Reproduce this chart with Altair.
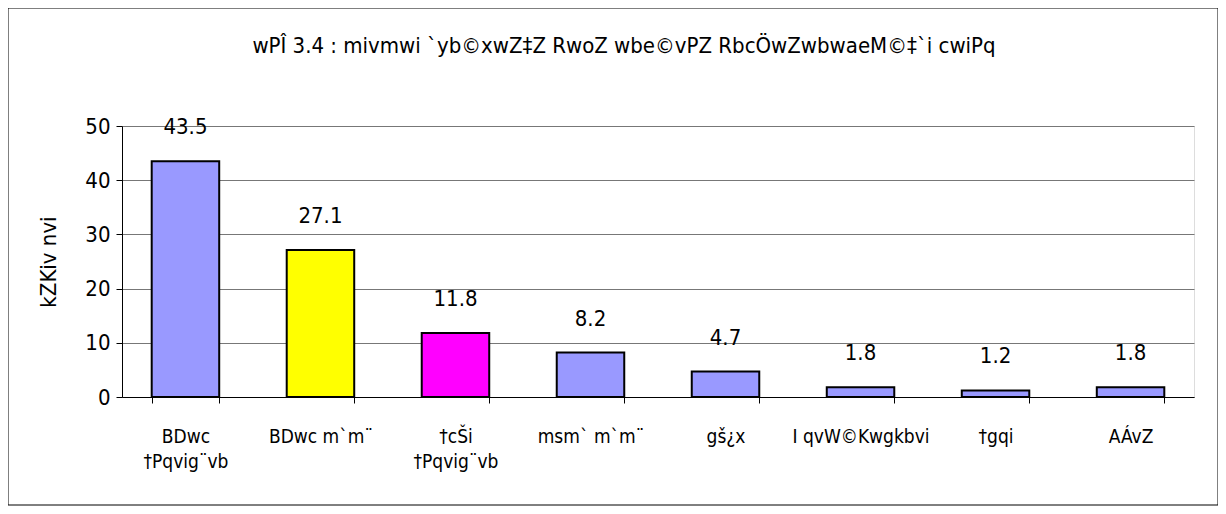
import altair as alt
import pandas as pd

categories = ["BDwc\n†Pqvig¨vb", "BDwc m`m¨", "†cŠi\n†Pqvig¨vb", "msm` m`m¨",
              "gš¿x", "I qvW©Kwgkbvi", "†gqi", "AÁvZ"]
values = [43.5, 27.1, 11.8, 8.2, 4.7, 1.8, 1.2, 1.8]
colors = ["#9999FF", "#FFFF00", "#FF00FF", "#9999FF", "#9999FF", "#9999FF", "#9999FF", "#9999FF"]
title_text = "wPÎ 3.4 : mivmwi `yb©xwZ‡Z RwoZ wbe©vPZ RbcÖwZwbwaeM©‡`i cwiPq"
y_title = "kZKiv nvi"

df = pd.DataFrame({"cat": categories, "val": values, "col": colors,
                   "lab": [f"{v:.1f}" for v in values]})

NARROW = "DejaVu Sans Condensed"
W, H = 1072, 271

x = alt.X("cat:N", sort=categories, title=None,
          scale=alt.Scale(paddingInner=0.5, paddingOuter=0.22),
          axis=alt.Axis(labelAngle=0, labelExpr="split(datum.label, '\\n')",
                        labelFont=NARROW, labelFontSize=19, labelColor="black",
                        labelPadding=24, labelLineHeight=25, labelBaseline="top",
                        tickBand="extent", tickSize=6, tickColor="black",
                        domainColor="black", grid=False))
y = alt.Y("val:Q", title=y_title,
          scale=alt.Scale(domain=[0, 50]),
          axis=alt.Axis(values=[0, 10, 20, 30, 40, 50], tickSize=6, tickColor="black",
                        domainColor="black", gridColor="#777777", grid=True,
                        labelFont=NARROW, labelFontSize=22, labelColor="black",
                        labelPadding=6, titleFont=NARROW, titleFontSize=22,
                        titleFontWeight="normal", titleColor="black", titlePadding=24))

bars = alt.Chart(df).mark_bar(stroke="black", strokeWidth=2).encode(
    x=x, y=y, fill=alt.Fill("col:N", scale=None))

labels = alt.Chart(df).mark_text(dy=-34, fontSize=22, font=NARROW,
                                 color="black", baseline="middle").encode(
    x=alt.X("cat:N", sort=categories), y="val:Q", text="lab:N")

title_df = pd.DataFrame({"t": [title_text]})
title = alt.Chart(title_df).mark_text(fontSize=22, font=NARROW, color="black",
                                      baseline="middle", align="center").encode(
    x=alt.value(502), y=alt.value(-80), text="t:N")

frame = alt.Chart(title_df).mark_rect(fill=None, stroke="black", strokeWidth=1,
                                      clip=False).encode(
    x=alt.value(-114), x2=alt.value(1096), y=alt.value(-118), y2=alt.value(379))

chart = alt.layer(frame, bars, labels, title).properties(
    width=W, height=H,
    autosize=alt.AutoSizeParams(type="none"),
    padding={"left": 114, "top": 118, "right": 24, "bottom": 110},
).configure_view(stroke=None).configure(background="white")

chart.save("out.html", embed_options={"renderer": "svg", "actions": False})
